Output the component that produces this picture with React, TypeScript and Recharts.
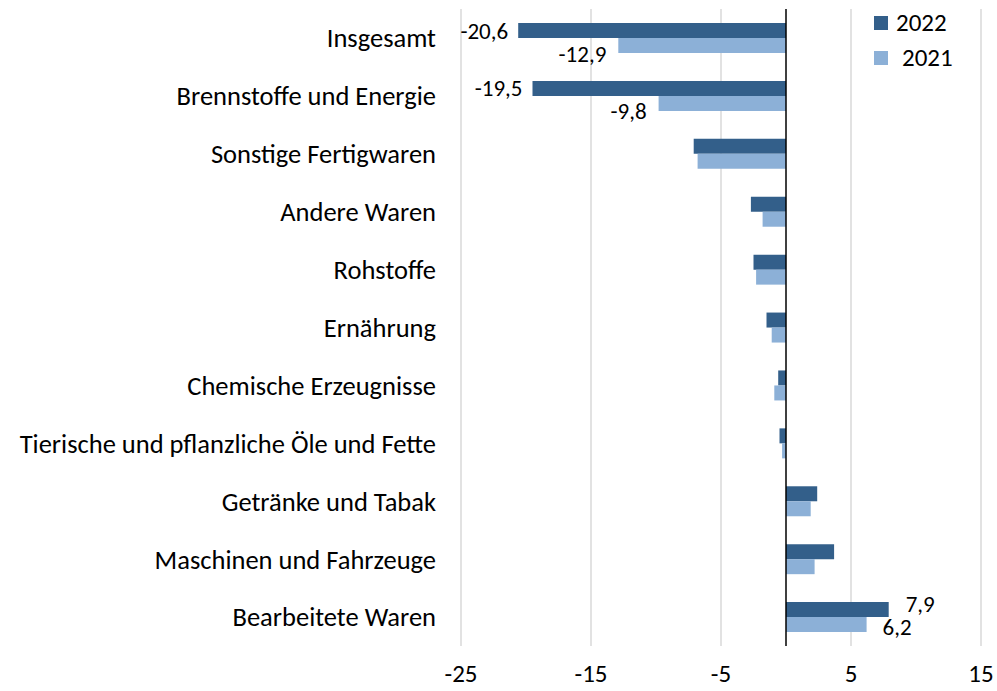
import React from "react";
import { BarChart, Bar, XAxis, YAxis, CartesianGrid, ReferenceLine, LabelList } from "recharts";

const categories = [
  "Insgesamt",
  "Brennstoffe und Energie",
  "Sonstige Fertigwaren",
  "Andere Waren",
  "Rohstoffe",
  "Ernährung",
  "Chemische Erzeugnisse",
  "Tierische und pflanzliche Öle und Fette",
  "Getränke und Tabak",
  "Maschinen und Fahrzeuge",
  "Bearbeitete Waren",
];
const values2022 = [-20.6, -19.5, -7.1, -2.7, -2.5, -1.5, -0.6, -0.5, 2.4, 3.7, 7.9];
const values2021 = [-12.9, -9.8, -6.8, -1.8, -2.3, -1.1, -0.9, -0.3, 1.9, 2.2, 6.2];
const xTicks = [-25, -15, -5, 5, 15];
const labelledRows = [0, 1, 10];

const DARK = "#335f8a";
const LIGHT = "#8cb0d7";
const FONT = "Carlito, Lato, sans-serif";

const data = categories.map((name, i) => ({
  name,
  y2022: values2022[i],
  y2021: values2021[i],
}));

const fmt = (v: number) => v.toFixed(1).replace(".", ",");

// label placement: gap from the bar end and vertical shift, for negative / positive bars
function makeLabel(negGap: number, negDy: number, posGap: number, posDy: number) {
  return (props: any) => {
    const { x, y, width, height, value, index } = props;
    if (!labelledRows.includes(index)) return null;
    const left = Math.min(x, x + width);
    const right = Math.max(x, x + width);
    const neg = value < 0;
    return (
      <text
        x={neg ? left - negGap : right + posGap}
        y={y + height / 2 + (neg ? negDy : posDy)}
        textAnchor={neg ? "end" : "start"}
        dominantBaseline="central"
        fontFamily={FONT}
        fontSize={23}
        fill="#000"
      >
        {fmt(value)}
      </text>
    );
  };
}

const legendItems = [
  { label: "2022", color: DARK, gap: 8 },
  { label: "2021", color: LIGHT, gap: 14 },
];

export default function App() {
  return (
    <div style={{ position: "absolute", left: 0, top: 0, width: 997, height: 691, background: "#fff" }}>
      <BarChart
        width={997}
        height={691}
        data={data}
        layout="vertical"
        margin={{ top: 9, right: 16, left: 0, bottom: 0 }}
        barGap={0}
        barSize={15}
      >
        <CartesianGrid horizontal={false} stroke="#d9d9d9" strokeWidth={1.5} />
        <XAxis
          type="number"
          domain={[-25, 15]}
          ticks={xTicks}
          axisLine={false}
          tickLine={false}
          tickSize={0}
          tickMargin={18}
          height={45}
          tick={{ fontFamily: FONT, fontSize: 25, fill: "#000" }}
        />
        <YAxis
          type="category"
          dataKey="name"
          width={461}
          axisLine={false}
          tickLine={false}
          tickSize={0}
          tickMargin={25}
          interval={0}
          tick={{ fontFamily: FONT, fontSize: 26.5, fill: "#000" }}
        />
        <Bar dataKey="y2022" name="2022" fill={DARK} isAnimationActive={false}>
          <LabelList dataKey="y2022" content={makeLabel(10, 0, 17, -6)} />
        </Bar>
        <Bar dataKey="y2021" name="2021" fill={LIGHT} isAnimationActive={false}>
          <LabelList dataKey="y2021" content={makeLabel(12, 8, 16, 2)} />
        </Bar>
        <ReferenceLine x={0} stroke="#000" strokeWidth={1.5} />
      </BarChart>
      <div
        style={{
          position: "absolute",
          left: 874,
          top: 5,
          fontFamily: FONT,
          fontSize: 25,
          color: "#000",
          lineHeight: "35px",
        }}
      >
        {legendItems.map((d) => (
          <div key={d.label} style={{ display: "flex", alignItems: "center" }}>
            <span
              style={{ width: 14, height: 14, background: d.color, display: "inline-block", marginRight: d.gap }}
            />
            {d.label}
          </div>
        ))}
      </div>
    </div>
  );
}
